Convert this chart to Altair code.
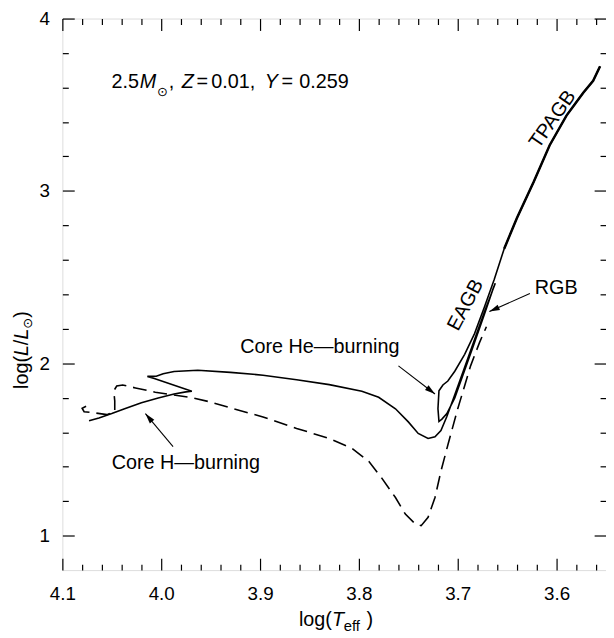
import math
import altair as alt
import pandas as pd

# ---------------- data ----------------
# solid evolutionary track (log Teff, log L/Lsun), in path order
solid_teff = [4.073, 4.063, 4.050, 4.037, 4.020, 4.003, 3.987, 3.975, 3.969, 4.007,
              4.014, 4.005, 3.998, 3.987, 3.963, 3.930, 3.897, 3.863, 3.830, 3.797,
              3.780, 3.763, 3.750, 3.740, 3.730, 3.723, 3.717, 3.711, 3.703, 3.693,
              3.683, 3.673, 3.662, 3.664, 3.673, 3.683, 3.693, 3.703, 3.711, 3.716,
              3.719, 3.720, 3.719, 3.715, 3.710, 3.703, 3.693, 3.683, 3.673, 3.663,
              3.653, 3.640, 3.623, 3.607, 3.590, 3.581, 3.573, 3.563, 3.556]
solid_logl = [1.666, 1.683, 1.708, 1.736, 1.771, 1.799, 1.822, 1.834, 1.838, 1.912,
              1.924, 1.925, 1.939, 1.952, 1.960, 1.947, 1.931, 1.904, 1.876, 1.838,
              1.803, 1.736, 1.660, 1.593, 1.564, 1.573, 1.610, 1.691, 1.817, 1.977,
              2.138, 2.298, 2.464, 2.436, 2.284, 2.120, 1.960, 1.799, 1.708, 1.676,
              1.662, 1.736, 1.840, 1.874, 1.897, 1.954, 2.052, 2.172, 2.327, 2.487,
              2.665, 2.844, 3.054, 3.265, 3.437, 3.507, 3.570, 3.639, 3.723]
TPAGB_START = 50  # index where the thick TP-AGB part begins

# dashed track
dashed_teff = [4.076, 4.080, 4.078, 4.068, 4.055, 4.047, 4.047, 4.048, 4.045, 4.039,
               4.026, 4.006, 3.988, 3.970, 3.950, 3.927, 3.897, 3.863, 3.830, 3.807,
               3.790, 3.777, 3.763, 3.753, 3.743, 3.737, 3.730, 3.723, 3.717, 3.710,
               3.700, 3.693, 3.687, 3.678, 3.671]
dashed_logl = [1.751, 1.739, 1.719, 1.713, 1.702, 1.719, 1.782, 1.840, 1.868, 1.874,
               1.857, 1.832, 1.817, 1.802, 1.775, 1.736, 1.689, 1.622, 1.564, 1.507,
               1.431, 1.335, 1.221, 1.125, 1.068, 1.058, 1.106, 1.221, 1.374, 1.526,
               1.736, 1.870, 1.985, 2.120, 2.212]

# ticks
x_major = [4.1, 4.0, 3.9, 3.8, 3.7, 3.6]
x_minor = [4.08, 4.06, 4.04, 4.02, 3.98, 3.96, 3.94, 3.92, 3.88, 3.86, 3.84, 3.82,
           3.78, 3.76, 3.74, 3.72, 3.68, 3.66, 3.64, 3.62, 3.58, 3.56]
y_major = [1, 2, 3, 4]
y_minor = [1.2, 1.4, 1.6, 1.8, 2.2, 2.4, 2.6, 2.8, 3.2, 3.4, 3.6, 3.8]
X_DOMAIN = [3.55, 4.1]
Y_DOMAIN = [0.8, 4.0]

# labels with arrows
label_text = ["Core H—burning", "Core He—burning", "RGB"]
label_teff = [4.050, 3.920, 3.622]
label_logl = [1.389, 2.061, 2.401]
arrow_teff_from = [3.988, 3.760, 3.627]
arrow_logl_from = [1.517, 1.985, 2.405]
arrow_teff_to = [4.016, 3.723, 3.668]
arrow_logl_to = [1.708, 1.822, 2.300]

# phase labels along the track
phase_text = ["EAGB", "TPAGB"]
phase_teff = [3.692, 3.604]
phase_logl = [2.338, 3.415]

# text pieces: (text, teff, logL, kind)
pieces = [
    # model description
    ("2.5", 4.0503, 3.599, "n"), ("M", 4.0218, 3.599, "i"), ("⊙", 4.0043, 3.553, "sun"),
    (",", 3.9923, 3.599, "n"), ("Z", 3.9793, 3.599, "i"), ("=", 3.9643, 3.599, "n"),
    ("0.01,", 3.9493, 3.599, "n"), ("Y", 3.8953, 3.599, "i"), ("=", 3.8783, 3.599, "n"),
    ("0.259", 3.8603, 3.599, "n"),
    # x-axis title  log(T_eff)
    ("log(", 3.8273, 0.476, "nr"), ("T", 3.8273, 0.476, "i"), ("eff", 3.8153, 0.447, "sub"),
    (")", 3.7923, 0.476, "n"),
    # y-axis title  log(L/L⊙), rotated
    ("log(", 4.1343, 1.851, "r"), ("L", 4.1343, 2.042, "ri"), ("/", 4.1343, 2.105, "r"),
    ("L", 4.1343, 2.138, "ri"), ("⊙", 4.1303, 2.201, "rsun"), (")", 4.1343, 2.264, "r"),
]

W, H = 550, 558
FONT = "Liberation Sans"
FS = 19   # tick labels
FT = 20   # annotation text

# ---------------- frames ----------------
solid_df = pd.DataFrame({"teff": solid_teff, "logl": solid_logl, "i": range(len(solid_teff))})
dashed_df = pd.DataFrame({"teff": dashed_teff, "logl": dashed_logl, "i": range(len(dashed_teff))})
label_df = pd.DataFrame({"teff": label_teff, "logl": label_logl, "text": label_text})
px_per_x = W / (X_DOMAIN[1] - X_DOMAIN[0])
px_per_y = H / (Y_DOMAIN[1] - Y_DOMAIN[0])
angles = []
for x1, y1, x2, y2 in zip(arrow_teff_from, arrow_logl_from, arrow_teff_to, arrow_logl_to):
    dxp = -(x2 - x1) * px_per_x
    dyp = -(y2 - y1) * px_per_y
    angles.append(math.degrees(math.atan2(dxp, -dyp)) % 360)
arrow_df = pd.DataFrame({"x1": arrow_teff_from, "y1": arrow_logl_from,
                         "x2": arrow_teff_to, "y2": arrow_logl_to, "ang": angles})
piece_df = pd.DataFrame(pieces, columns=["text", "teff", "logl", "kind"])

xs = alt.Scale(domain=X_DOMAIN, reverse=True, nice=False, zero=False)
ys = alt.Scale(domain=Y_DOMAIN, nice=False, zero=False)


def xax(orient, values, major, labels=False):
    kw = dict(orient=orient, values=values, title=None, grid=False, domain=False,
              tickSize={"expr": "-12" if major else "-6"}, tickColor="black", tickWidth=1.2,
              labels=labels)
    if labels:
        kw.update(format=".1f", labelPadding=27, labelFlush=False, labelOverlap=False,
                  labelFont=FONT, labelFontSize=FS, labelColor="black")
    return alt.Axis(**kw)


def yax(orient, values, major, labels=False):
    kw = dict(orient=orient, values=values, title=None, grid=False, domain=False,
              tickSize={"expr": "-12" if major else "-6"}, tickColor="black", tickWidth=1.2,
              labels=labels)
    if labels:
        kw.update(format="d", labelPadding=25, labelFlush=False, labelOverlap=False,
                  labelFont=FONT, labelFontSize=FS, labelColor="black")
    return alt.Axis(**kw)


def X(axis=None):
    return alt.X("teff:Q", scale=xs, axis=axis)


def Y(axis=None):
    return alt.Y("logl:Q", scale=ys, axis=axis)


solid = alt.Chart(solid_df).mark_line(color="black", strokeWidth=1.6).encode(
    x=X(xax("bottom", x_major, True, labels=True)),
    y=Y(yax("left", y_major, True, labels=True)),
    order="i:Q")

dashed = alt.Chart(dashed_df).mark_line(color="black", strokeWidth=1.6,
                                        strokeDash=[14, 7]).encode(
    x=X(xax("bottom", x_minor, False)),
    y=Y(yax("left", y_minor, False)),
    order="i:Q")

tpagb = alt.Chart(solid_df).transform_filter(alt.datum.i >= TPAGB_START).mark_line(
    color="black", strokeWidth=2.5).encode(
    x=X(xax("top", x_major, True)),
    y=Y(yax("right", y_major, True)),
    order="i:Q")

labels = alt.Chart(label_df).mark_text(
    font=FONT, fontSize=FT, align="left", baseline="alphabetic", color="black").encode(
    x=X(xax("top", x_minor, False)),
    y=Y(yax("right", y_minor, False)),
    text="text:N")

layers = [solid, dashed, tpagb, labels]

arrow_lines = alt.Chart(arrow_df).mark_rule(color="black", strokeWidth=1.1).encode(
    x=alt.X("x1:Q", scale=xs, axis=None), y=alt.Y("y1:Q", scale=ys, axis=None),
    x2="x2:Q", y2="y2:Q")
arrow_heads = alt.Chart(arrow_df).mark_point(
    shape="M0,0 L-0.28,1 L0.28,1 Z", size=440, filled=True, color="black", opacity=1).encode(
    x=alt.X("x2:Q", scale=xs, axis=None), y=alt.Y("y2:Q", scale=ys, axis=None),
    angle=alt.Angle("ang:Q", scale=None))
layers += [arrow_lines, arrow_heads]

for t, x, y, a in zip(phase_text, phase_teff, phase_logl, [298, 305]):
    d = pd.DataFrame({"teff": [x], "logl": [y], "text": [t]})
    layers.append(alt.Chart(d).mark_text(font=FONT, fontSize=FT, align="center",
                                         baseline="middle", angle=a, color="black").encode(
        x=X(), y=Y(), text="text:N"))

styles = {
    "n": dict(font=FONT, fontSize=FT, align="left"),
    "nr": dict(font=FONT, fontSize=FT, align="right"),
    "i": dict(font=FONT, fontSize=FT, align="left", fontStyle="italic"),
    "sun": dict(font="DejaVu Sans", fontSize=13, align="left"),
    "sub": dict(font=FONT, fontSize=15, align="left"),
    "r": dict(font=FONT, fontSize=FT, align="left", angle=270),
    "ri": dict(font=FONT, fontSize=FT, align="left", angle=270, fontStyle="italic"),
    "rsun": dict(font="DejaVu Sans", fontSize=13, align="left", angle=270),
}
for kind, st in styles.items():
    layers.append(alt.Chart(piece_df).transform_filter(alt.datum.kind == kind).mark_text(
        baseline="alphabetic", color="black", **st).encode(
        x=X(), y=Y(), text="text:N"))

chart = alt.layer(*layers).resolve_axis(x="independent", y="independent").properties(
    width=W, height=H,
    autosize=alt.AutoSizeParams(type="none"),
    padding={"left": 55, "top": 7, "right": 0, "bottom": 65},
).configure_view(stroke="black", strokeWidth=1.5).configure(background="white")

chart.save("out.html", embed_options={"renderer": "svg", "actions": False})
